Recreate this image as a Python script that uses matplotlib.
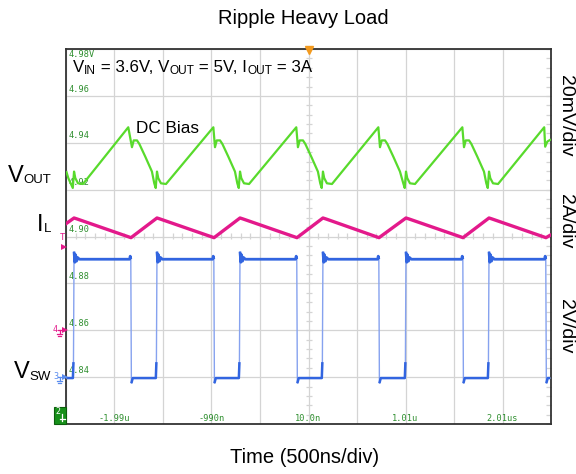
import matplotlib
matplotlib.use("Agg")
import matplotlib.pyplot as plt
import numpy as np
from matplotlib.lines import Line2D
from matplotlib.patches import Rectangle

plt.rcParams['font.family'] = ['Liberation Sans', 'DejaVu Sans']

W, H = 576, 474

# ---- timebase: 500 ns/div, 10 divisions, trigger at +10 ns ----
t_min, t_max = -2490, 2510
time_ticks = [-1990, -990, 10, 1010, 2010]
time_tick_labels = ["-1.99u", "-990n", "10.0n", "1.01u", "2.01us"]

# ---- channel 2 (VOUT) readout of each horizontal division line ----
vout_levels = [4.98, 4.96, 4.94, 4.92, 4.90, 4.88, 4.86, 4.84]
vout_level_labels = ["4.98V", "4.96", "4.94", "4.92", "4.90", "4.88", "4.86", "4.84"]

# ---- VOUT ripple, ch2, 20 mV/div (time in ns, volts) ----
vout_t = [-2485, -2466, -2420, -2407, -2394, -2366, -2315,
          -1848, -1810, -1792, -1758, -1734, -1673, -1604, -1580, -1565, -1552, -1539, -1511, -1459,
          -971, -954, -936, -902, -878, -817, -748, -724, -709, -696, -683, -655, -603,
          -116, -99, -81, -47, -23, 38, 107, 131, 146, 159, 172, 200, 252,
          730, 747, 765, 799, 823, 884, 953, 987, 1002, 1015, 1028, 1056, 1108,
          1596, 1613, 1631, 1665, 1689, 1750, 1819, 1843, 1858, 1871, 1884, 1912, 1964,
          2440, 2450, 2472, 2500]
vout_v = [4.9275, 4.9249, 4.9207, 4.9277, 4.9249, 4.9227, 4.9224,
          4.9466, 4.9381, 4.9410, 4.9410, 4.9395, 4.9341, 4.9277, 4.9227, 4.9207, 4.9277, 4.9249, 4.9227, 4.9224,
          4.9466, 4.9381, 4.9410, 4.9410, 4.9395, 4.9341, 4.9277, 4.9227, 4.9207, 4.9277, 4.9249, 4.9227, 4.9224,
          4.9466, 4.9381, 4.9410, 4.9410, 4.9395, 4.9341, 4.9277, 4.9227, 4.9207, 4.9277, 4.9249, 4.9227, 4.9224,
          4.9466, 4.9381, 4.9410, 4.9410, 4.9395, 4.9341, 4.9277, 4.9227, 4.9207, 4.9277, 4.9249, 4.9227, 4.9224,
          4.9466, 4.9381, 4.9410, 4.9410, 4.9395, 4.9341, 4.9277, 4.9227, 4.9207, 4.9277, 4.9249, 4.9227, 4.9224,
          4.9466, 4.9383, 4.9405, 4.9412]

# ---- inductor current, ch4, 2 A/div (time in ns, amps) ----
il_t = [-2485, -2407, -2377, -1820, -1552, -1522, -964, -696, -666, -109,
        159, 189, 737, 1015, 1045, 1603, 1871, 1901, 2458, 2500]
il_a = [4.56, 4.79, 4.75, 3.95, 4.79, 4.75, 3.95, 4.79, 4.75, 3.95,
        4.79, 4.75, 3.95, 4.79, 4.75, 3.95, 4.79, 4.75, 3.95, 4.05]

# ---- switch node, ch3, 2 V/div (time in ns, volts) ----
vsw_t = [-2485,
         -2419, -2413, -2407, -2399, -2391, -2381, -2369, -2352, -1834, -1828, -1822, -1816, -1802,
         -1564, -1558, -1552, -1544, -1536, -1526, -1514, -1497, -978, -972, -966, -960, -946,
         -708, -702, -696, -688, -680, -670, -658, -641, -123, -117, -111, -105, -91,
         147, 153, 159, 167, 175, 185, 197, 214, 723, 729, 735, 741, 755,
         1003, 1009, 1015, 1023, 1031, 1041, 1053, 1070, 1589, 1595, 1601, 1607, 1621,
         1859, 1865, 1871, 1879, 1887, 1897, 1909, 1926, 2444, 2450, 2456, 2462, 2476,
         2500]
vsw_v = [-0.04,
         -0.04, 0.64, 5.35, 4.90, 5.22, 4.95, 5.10, 5.03, 5.03, 5.16, 5.03, -0.26, -0.04,
         -0.04, 0.64, 5.35, 4.90, 5.22, 4.95, 5.10, 5.03, 5.03, 5.16, 5.03, -0.26, -0.04,
         -0.04, 0.64, 5.35, 4.90, 5.22, 4.95, 5.10, 5.03, 5.03, 5.16, 5.03, -0.26, -0.04,
         -0.04, 0.64, 5.35, 4.90, 5.22, 4.95, 5.10, 5.03, 5.03, 5.16, 5.03, -0.26, -0.04,
         -0.04, 0.64, 5.35, 4.90, 5.22, 4.95, 5.10, 5.03, 5.03, 5.16, 5.03, -0.26, -0.04,
         -0.04, 0.64, 5.35, 4.90, 5.22, 4.95, 5.10, 5.03, 5.03, 5.16, 5.03, -0.26, -0.04,
         -0.04]

GREEN = '#58da2c'
PINK = '#e3198b'
BLUE = '#3265e0'
BLUE_EDGE = '#86a2ef'
LABEL_GREEN = '#2f8f2f'
GRID = '#d4d4d4'
FRAME = '#333333'


def fx(x):
    return x / W


def fy(y):
    return 1 - y / H


fig = plt.figure(figsize=(W / 100, H / 100), dpi=100)
ax = fig.add_axes([fx(66), fy(424), fx(551) - fx(66), fy(49) - fy(424)])

# scope graticule: 10 x 8 divisions
ax.set_xlim(t_min, t_max)
ax.set_ylim(4.82, 4.98)
ax.set_xticks(np.arange(t_min, t_max + 1, 500))
ax.set_yticks(np.arange(4.82, 4.981, 0.02))
ax.tick_params(length=0, labelbottom=False, labelleft=False)
ax.grid(True, color=GRID, lw=0.9, zorder=0)
ax.set_axisbelow(True)
for s in ax.spines.values():
    s.set_color(FRAME)
    s.set_linewidth(1.3)

# minor marks on the centre cross and right edge
minor_y = np.arange(4.82, 4.981, 0.004)
minor_x = np.arange(t_min, t_max + 1, 100)
ax.plot([10] * len(minor_y), minor_y, ls='none', marker='_', ms=5, mew=0.9, color=GRID, zorder=0.5)
ax.plot(minor_x, [4.90] * len(minor_x), ls='none', marker='|', ms=5, mew=0.9, color=GRID, zorder=0.5)
ax.plot([t_max] * len(minor_y), minor_y, ls='none', marker='_', ms=7, mew=0.9, color=GRID, zorder=0.5)

# channel readouts
for lvl, lab in zip(vout_levels, vout_level_labels):
    if lab.endswith('V'):
        ax.text(0.006, 0.997, lab, transform=ax.transAxes, ha='left', va='top',
                family='DejaVu Sans Mono', fontsize=6.2, color=LABEL_GREEN, zorder=1)
    else:
        ax.text(0.006, (lvl - 4.82) / 0.16 + 0.006, lab, transform=ax.transAxes, ha='left', va='bottom',
                family='DejaVu Sans Mono', fontsize=6.2, color=LABEL_GREEN, zorder=1)
for t, lab in zip(time_ticks, time_tick_labels):
    ax.text(t, 0.014, lab, transform=ax.get_xaxis_transform(), ha='center', va='center',
            family='DejaVu Sans Mono', fontsize=6.2, color=LABEL_GREEN, zorder=1)

# VOUT trace on the main axis
ax.plot(vout_t, vout_v, color=GREEN, lw=1.6, zorder=3, solid_joinstyle='round')

# IL on its own vertical scale (2 A/div, ground 2 div below centre)
ax_il = ax.twinx()
ax_il.set_ylim(-4, 12)
ax_il.axis('off')
ax_il.plot(il_t, il_a, color=PINK, lw=2.4, zorder=3, solid_joinstyle='round')

# VSW on its own vertical scale (2 V/div, ground 3 div below centre)
ax_sw = ax.twinx()
ax_sw.set_ylim(-2, 14)
ax_sw.axis('off')
vsw_arr = np.array(vsw_v)
ax_sw.plot(vsw_t, vsw_v, color=BLUE_EDGE, lw=1.0, zorder=2)
ax_sw.plot(vsw_t, np.ma.masked_where(vsw_arr < 2.5, vsw_arr), color=BLUE, lw=2.0, zorder=3,
           solid_capstyle='butt')
ax_sw.plot(vsw_t, np.ma.masked_where(vsw_arr > 2.5, vsw_arr), color=BLUE, lw=1.8, zorder=3,
           solid_capstyle='butt')

# trigger position marker
fig.add_artist(Line2D([fx(309)], [fy(50)], marker='v', ms=6, color='#f39a1e', mec='#f39a1e'))

# channel ground / trigger markers on the left edge
fig.text(fx(62.5), fy(238), 'T', color=PINK, fontsize=6.5, family='DejaVu Sans Mono', ha='center', va='center')
fig.add_artist(Line2D([fx(63.5)], [fy(247)], marker='>', ms=4, color=PINK, mew=0))


def ground_marker(num, y, color):
    fig.text(fx(55.5), fy(y - 0.5), num, color=color, fontsize=6, family='DejaVu Sans Mono',
             ha='center', va='center')
    fig.add_artist(Line2D([fx(58), fx(64)], [fy(y), fy(y)], color=color, lw=0.9))
    fig.add_artist(Line2D([fx(64.5)], [fy(y)], marker='>', ms=4, color=color, mew=0))
    fig.add_artist(Line2D([fx(59.5), fx(59.5)], [fy(y), fy(y + 4)], color=color, lw=0.9))
    fig.add_artist(Line2D([fx(57), fx(62)], [fy(y + 4), fy(y + 4)], color=color, lw=0.9))
    fig.add_artist(Line2D([fx(58), fx(61)], [fy(y + 6), fy(y + 6)], color=color, lw=0.9))


ground_marker('4', 330, PINK)
ground_marker('3', 377, '#5b8def')

fig.add_artist(Rectangle((fx(54), fy(424)), fx(12), 17 / H, facecolor='#17901a',
                         edgecolor='#0c5f0c', lw=0.8))
fig.text(fx(57.5), fy(412), '2', color='white', fontsize=6, family='DejaVu Sans Mono', ha='center', va='center')
fig.add_artist(Line2D([fx(62), fx(62)], [fy(414), fy(421)], color='white', lw=0.9))
fig.add_artist(Line2D([fx(59.5), fx(64.5)], [fy(419), fy(419)], color='white', lw=0.9))

renderer = fig.canvas.get_renderer()


def rich_text(x, y, parts, color='black'):
    """Draw runs of text side by side: (string, size, baseline drop in px)."""
    cur = x
    for s, size, drop in parts:
        t = fig.text(fx(cur), fy(y + drop), s, fontsize=size, color=color, ha='left', va='baseline')
        cur += t.get_window_extent(renderer).width


# headings
fig.text(fx(303), fy(24), 'Ripple Heavy Load', fontsize=14.5, ha='center', va='baseline')
fig.text(fx(305), fy(463), 'Time (500ns/div)', fontsize=14.5, ha='center', va='baseline')

# annotations inside the graticule
rich_text(73, 72, [('V', 12.2, 0), ('IN', 8.6, 2.3), (' = 3.6V, V', 12.2, 0), ('OUT', 8.6, 2.3),
                   (' = 5V, I', 12.2, 0), ('OUT', 8.6, 2.3), (' = 3A', 12.2, 0)])
fig.text(fx(136), fy(133), 'DC Bias', fontsize=12.3, ha='left', va='baseline')

# channel names on the left
rich_text(8, 182, [('V', 17, 0), ('OUT', 9.5, 1)])
rich_text(37, 231, [('I', 17, 0), ('L', 9.5, 1)])
rich_text(14, 378, [('V', 17, 0), ('SW', 9.5, 1.5)])

# vertical scales on the right
for lab, yc in [('20mV/div', 116), ('2A/div', 221), ('2V/div', 326)]:
    fig.text(fx(566), fy(yc), lab, fontsize=14, rotation=-90, ha='center', va='center')

fig.savefig('out.png', dpi=100)
